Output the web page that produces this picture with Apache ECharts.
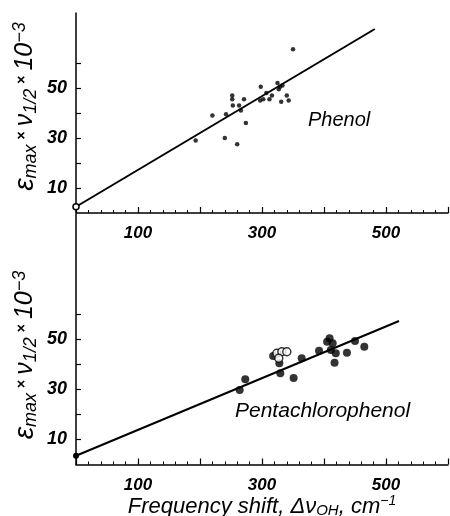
<!DOCTYPE html>
<html>
<head>
<meta charset="utf-8">
<script src="https://cdn.jsdelivr.net/npm/echarts@6/dist/echarts.min.js"></script>
<style>
html, body { margin: 0; background: #fff; }
#main { width: 450px; height: 516px; }
</style>
</head>
<body>
<div id="main"></div>
<script>
// tick labels
var xLabels = [100, 300, 500];
var yLabels = [10, 30, 50];
var yTicks = [10, 20, 30, 40, 50, 60];

// phenol: frequency shift vs eps*nu
var phenolPts = [
    [350, 65.5], [193, 29], [220, 39], [240, 30], [260, 27.5], [242, 39.5],
    [252, 47], [252, 45.5], [253, 43], [263, 43], [266, 41], [271, 45.5],
    [274, 36], [298, 50.5], [297, 45], [302, 45.5], [307, 48], [312, 45.5],
    [316, 47], [325, 52], [329, 50.5], [333, 51], [331, 44.5], [340, 47],
    [343, 45], [327, 49.5]
];
var phenolFit = [[0, 2.5], [482, 73.6]];

// pentachlorophenol
var pcpFilled = [
    [264, 29.8], [273, 34.1], [318, 43.4], [328, 40.5], [329.5, 36.5],
    [351, 34.6], [364, 42.5], [392, 45.5], [405, 49.1], [409, 50.5],
    [414, 48.5], [411, 45.8], [419, 44.5], [417, 40.7], [437, 44.7],
    [450, 49.4], [465, 47.1]
];
var pcpOpen = [[324, 44.5], [332, 45.1], [340, 45.1], [327, 42.5]];
var pcpFit = [[0, 3.5], [521, 57.4]];

var font = 'Liberation Sans';
var black = '#000';

var yName = '{e|ε}{s|max}{x|×}{n|ν}{s|1/2}{x|×}{n|10}{p|−3}';
var yRich = {
    e: { fontSize: 28, fontStyle: 'italic', fontFamily: font, lineHeight: 30, color: black },
    n: { fontSize: 25, fontStyle: 'italic', fontFamily: font, lineHeight: 30, color: black },
    s: { fontSize: 18, fontStyle: 'italic', fontFamily: font, verticalAlign: 'bottom', lineHeight: 18, color: black },
    x: { fontSize: 14, fontFamily: font, fontWeight: 'bold', verticalAlign: 'top', lineHeight: 14, padding: [5, 5, 0, 5], color: black },
    p: { fontSize: 18, fontStyle: 'italic', fontFamily: font, verticalAlign: 'top', lineHeight: 18, padding: [1, 0, 0, 0], color: black }
};

function xAxisCfg(idx, withName) {
    var ax = {
        type: 'value', gridIndex: idx, min: 0, max: 600, interval: 100,
        axisLine: { onZero: false, lineStyle: { color: black, width: 1.5 } },
        axisTick: { inside: true, length: 6, lineStyle: { color: black, width: 1.2 } },
        minorTick: { show: true, splitNumber: 5, length: 3, lineStyle: { color: black, width: 1 } },
        axisLabel: {
            customValues: xLabels, margin: 12, color: black,
            fontFamily: font, fontStyle: 'italic', fontWeight: 'bold', fontSize: 17
        },
        splitLine: { show: false }
    };
    if (withName) {
        ax.name = '{t|Frequency shift, Δν}{s|OH}{t|, cm}{p|−1}';
        ax.nameLocation = 'middle';
        ax.nameGap = 30;
        ax.nameTextStyle = {
            rich: {
                t: { fontSize: 22, fontStyle: 'italic', fontFamily: font, lineHeight: 24, color: black },
                s: { fontSize: 15, fontStyle: 'italic', fontFamily: font, verticalAlign: 'bottom', lineHeight: 15, color: black },
                p: { fontSize: 14, fontStyle: 'italic', fontFamily: font, verticalAlign: 'top', lineHeight: 14, color: black }
            }
        };
    }
    return ax;
}

function yAxisCfg(idx, max, pad) {
    return {
        type: 'value', gridIndex: idx, min: 0, max: max,
        axisLine: { show: true, onZero: false, lineStyle: { color: black, width: 1.5 } },
        axisTick: { show: true, inside: true, length: 5, customValues: yTicks, lineStyle: { color: black, width: 1.2 } },
        axisLabel: {
            customValues: yLabels, margin: 9, color: black,
            fontFamily: font, fontStyle: 'italic', fontWeight: 'bold', fontSize: 18
        },
        splitLine: { show: false },
        name: yName,
        nameLocation: 'middle',
        nameGap: 36,
        nameMoveOverlap: false,
        nameTextStyle: { rich: yRich, padding: pad }
    };
}

var myChart = echarts.init(document.getElementById('main'));

var option = {
    animation: false,
    backgroundColor: '#fff',
    grid: [
        { left: 76, top: 13, width: 372, height: 200, outerBoundsMode: 'none' },
        { left: 76, top: 214.5, width: 372, height: 250, outerBoundsMode: 'none' }
    ],
    xAxis: [xAxisCfg(0, false), xAxisCfg(1, true)],
    yAxis: [yAxisCfg(0, 80, [0, 0, 0, 13]), yAxisCfg(1, 100, [0, 31, 0, 0])],
    graphic: [
        { type: 'text', left: 308, top: 110, style: { text: 'Phenol', font: 'italic 20px "Liberation Sans"', fill: black } },
        { type: 'text', left: 235, top: 401, style: { text: 'Pentachlorophenol', font: 'italic 21px "Liberation Sans"', fill: black } }
    ],
    series: [
        {
            type: 'line', xAxisIndex: 0, yAxisIndex: 0, clip: false,
            data: [
                { value: phenolFit[0], symbol: 'circle', symbolSize: 6 },
                { value: phenolFit[1], symbol: 'none' }
            ],
            lineStyle: { color: black, width: 2 },
            itemStyle: { color: '#fff', borderColor: black, borderWidth: 1.5 },
            z: 3
        },
        {
            type: 'scatter', xAxisIndex: 0, yAxisIndex: 0, clip: false,
            data: phenolPts, symbolSize: 4.5,
            itemStyle: { color: black }
        },
        {
            type: 'line', xAxisIndex: 1, yAxisIndex: 1, clip: false,
            data: [
                { value: pcpFit[0], symbol: 'circle', symbolSize: 6 },
                { value: pcpFit[1], symbol: 'none' }
            ],
            lineStyle: { color: black, width: 2 },
            itemStyle: { color: black },
            z: 3
        },
        {
            type: 'scatter', xAxisIndex: 1, yAxisIndex: 1, clip: false,
            data: pcpFilled, symbolSize: 8,
            itemStyle: { color: black }
        },
        {
            type: 'scatter', xAxisIndex: 1, yAxisIndex: 1, clip: false,
            data: pcpOpen, symbolSize: 8,
            itemStyle: { color: '#fff', borderColor: black, borderWidth: 1.5 }
        }
    ]
};

myChart.setOption(option);
</script>
</body>
</html>
